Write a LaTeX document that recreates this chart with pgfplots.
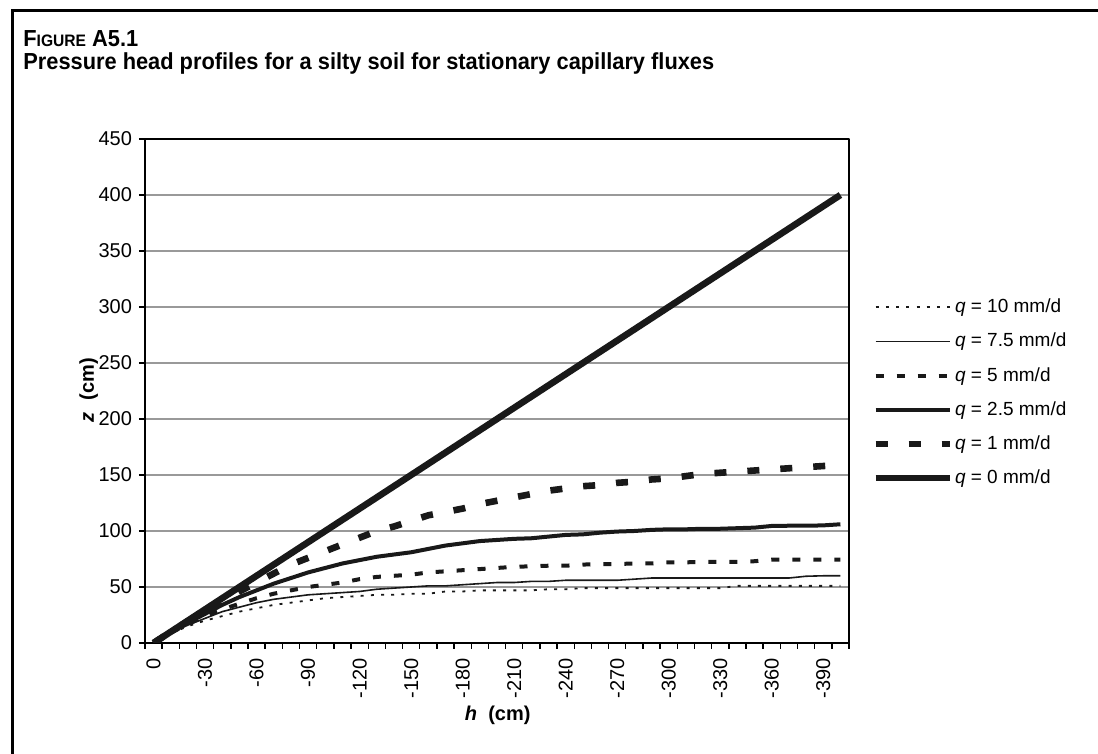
\documentclass[border=0pt]{standalone}
\usepackage{fontspec}
\setmainfont{Liberation Sans}
\newfontfamily\titlefont[FakeStretch=0.94]{Liberation Sans}
\usepackage{pgfplots}
\pgfplotsset{compat=1.18}
\usepackage{pgfplotstable}

\pgfplotstableread{
h q10 q75 q5 q25 q1 q0
0 0 0 0 0 0 0
-10 8.5 9 9 9.5 10 10
-20 15 16 17 18 19.5 20
-30 20 22 24 26 28.5 30
-40 24 28 30 34 37 40
-50 28 32 35 41 46 50
-60 31 36 40 47 54 60
-70 34 39 44 53 62 70
-80 36 41 47 58 70 80
-90 38 43 50 63 76 90
-100 40 44 52 67 82 100
-110 41 45 54 71 88 110
-120 42 46 57 74 94 120
-130 43 48 59 77 100 130
-140 43 49 60 79 104 140
-150 44 50 61 81 109 150
-160 44 51 63 84 114 160
-170 46 51 64 87 117 170
-180 46 52 65 89 120 180
-190 47 53 66 91 124 190
-200 47 54 67 92 127 200
-210 47 54 68 93 130 210
-220 47 55 68.5 93.5 133 220
-230 48 55 69 95 136 230
-240 48 56 69 96.5 138 240
-250 49 56 70 97 140 250
-260 49 56 70.5 98.5 141 260
-270 49 56 70.5 99.5 143 270
-280 49 57 71 100 144 280
-290 49 58 71 101 146 290
-300 49 58 72 101.5 147 300
-310 49 58 72 101.5 149 310
-320 49 58 72.5 102 151 320
-330 49 58 72.5 102 152 330
-340 51 58 72.5 102.5 153 340
-350 51 58 73 103 154 350
-360 51 58 74.5 104.5 155 360
-370 51 58 74.5 104.7 156 370
-380 51 59.6 74.5 104.7 157 380
-390 51 60 74.5 105 158 390
-400 51 60 74.5 106 159 400
}\data

\begin{document}
\begin{tikzpicture}[x=1pt,y=1pt]
\useasboundingbox (0,0) rectangle (549,377);
\draw[line width=1.5pt] (6,0) -- (6,371.5) -- (549,371.5);
\node[anchor=base west, inner sep=0pt, font=\titlefont\bfseries\fontsize{11.6}{13}\selectfont] at (11.5,353.6)
  {F{\fontsize{8.3}{9}\selectfont IGURE} A5.1};
\node[anchor=base west, inner sep=0pt, font=\titlefont\bfseries\fontsize{11.6}{13}\selectfont] at (11.5,342)
  {Pressure head profiles for a silty soil for stationary capillary fluxes};
\begin{axis}[
  scale only axis, width=352pt, height=252pt,
  at={(72.5pt,55.5pt)}, anchor=south west,
  x dir=reverse, xmin=-405, xmax=5, ymin=0, ymax=450,
  xtick={0,-30,...,-390},
  xticklabels={0,-30,-60,-90,-120,-150,-180,-210,-240,-270,-300,-330,-360,-390},
  minor xtick={5,-5,...,-405},
  ytick={0,50,...,450},
  yticklabels={0,50,100,150,200,250,300,350,400,450},
  xtick pos=left, ytick pos=left,
  tick align=outside,
  major tick length=3pt, minor tick length=3pt,
  every major x tick/.style={draw=none},
  every minor x tick/.style={black, line width=0.7pt},
  every major y tick/.style={black, line width=0.7pt},
  axis line style={black, line width=1pt},
  ymajorgrids, grid style={gray!80, line width=0.6pt},
  tick label style={font=\fontsize{10}{11}\selectfont},
  xticklabel style={rotate=90, anchor=east, inner sep=1.5pt},
  xticklabel shift=3pt,
  xlabel={\textbf{\textit{h}\ \ (cm)}},
  ylabel={\textbf{\textit{z}\hspace{6pt}(cm)}},
  label style={font=\fontsize{10}{11}\selectfont},
  xlabel style={at={(axis description cs:0.501,-0.143)}, anchor=center},
  ylabel style={at={(axis description cs:-0.08,0.502)}, anchor=center, rotate=0},
  legend image code/.code={\draw[#1] (0pt,0pt) -- (37pt,0pt);},
  legend style={at={(axis description cs:1.0327,0.688)}, anchor=north west, draw=none, fill=none,
    font=\fontsize{9.5}{11}\selectfont, row sep=6.6pt, inner sep=0pt,
    nodes={inner sep=1pt, text height=7pt, text depth=1.5pt}},
  legend cell align=left,
  line join=round,
]
\addplot[black!90, line width=0.9pt, dash pattern=on 1.5pt off 3.6pt] table[x=h, y=q10] {\data};
\addlegendentry{\textit{q} = 10 mm/d}
\addplot[black!90, line width=0.8pt] table[x=h, y=q75] {\data};
\addlegendentry{\textit{q} = 7.5 mm/d}
\addplot[black!90, line width=2pt, dash pattern=on 4pt off 6.5pt] table[x=h, y=q5] {\data};
\addlegendentry{\textit{q} = 5 mm/d}
\addplot[black!90, line width=2pt] table[x=h, y=q25] {\data};
\addlegendentry{\textit{q} = 2.5 mm/d}
\addplot[black!90, line width=3.3pt, dash pattern=on 6pt off 10.5pt] table[x=h, y=q1] {\data};
\addlegendentry{\textit{q} = 1 mm/d}
\addplot[black!90, line width=3.3pt] table[x=h, y=q0] {\data};
\addlegendentry{\textit{q} = 0 mm/d}
\end{axis}
\end{tikzpicture}
\end{document}
